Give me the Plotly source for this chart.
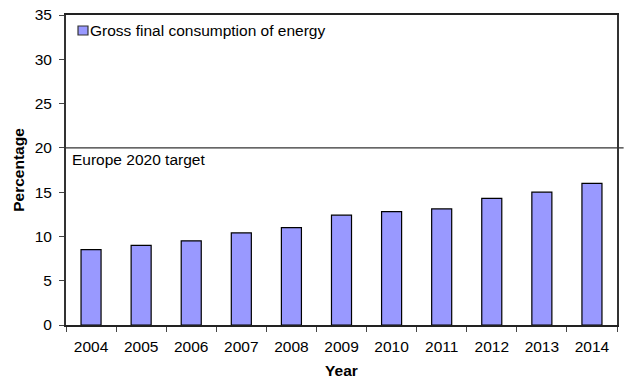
import plotly.graph_objects as go

years = ["2004", "2005", "2006", "2007", "2008", "2009", "2010", "2011", "2012", "2013", "2014"]
share = [8.5, 9.0, 9.5, 10.4, 11.0, 12.4, 12.8, 13.1, 14.3, 15.0, 16.0]
target_value = 20
target_label = "Europe 2020 target"
series_name = "Gross final consumption of energy"

font = dict(family="Liberation Sans, Arial, sans-serif", size=15.5, color="black")
bar_color = "#9999FF"

fig = go.Figure()
fig.add_trace(go.Bar(
    x=years, y=share, name=series_name, width=0.4,
    marker=dict(color=bar_color, line=dict(color="black", width=1.2)),
    showlegend=False,
))

# target line
fig.add_shape(type="line", xref="paper", yref="y", x0=0, x1=1.012, y0=target_value, y1=target_value,
              line=dict(color="#333333", width=1.3))
fig.add_annotation(xref="paper", yref="y", x=0.0, y=target_value, text=target_label,
                   showarrow=False, xanchor="left", yanchor="top", xshift=4, yshift=-1,
                   font=font)

# legend (drawn as key box + text)
fig.add_shape(type="rect", xref="paper", yref="paper", x0=0.0218, x1=0.0399, y0=0.9355, y1=0.9645,
              fillcolor=bar_color, line=dict(color="#333", width=1.2))
fig.add_annotation(xref="paper", yref="paper", x=0.0400, y=0.951, text=series_name,
                   showarrow=False, xanchor="left", yanchor="middle", font=font)

fig.update_layout(
    width=625, height=383,
    margin=dict(l=66, r=6, t=15, b=58),
    plot_bgcolor="white", paper_bgcolor="white",
    font=font,
    bargap=0.6,
)
fig.update_xaxes(
    type="category", tickson="boundaries", ticks="outside", ticklen=5, tickcolor="#444",
    showline=True, linecolor="#222", linewidth=1.5, mirror=True, showgrid=False,
    ticklabelstandoff=7,
    title=dict(text="<b>Year</b>", font=font, standoff=11),
)
fig.update_yaxes(
    range=[0, 35], dtick=5, ticks="outside", ticklen=5, tickcolor="#444",
    showline=True, linecolor="#333", linewidth=2, mirror=True, showgrid=False, zeroline=False,
    ticklabelstandoff=4,
    title=dict(text="<b>Percentage</b>", font=font, standoff=6),
)

fig.write_html("out.html")
